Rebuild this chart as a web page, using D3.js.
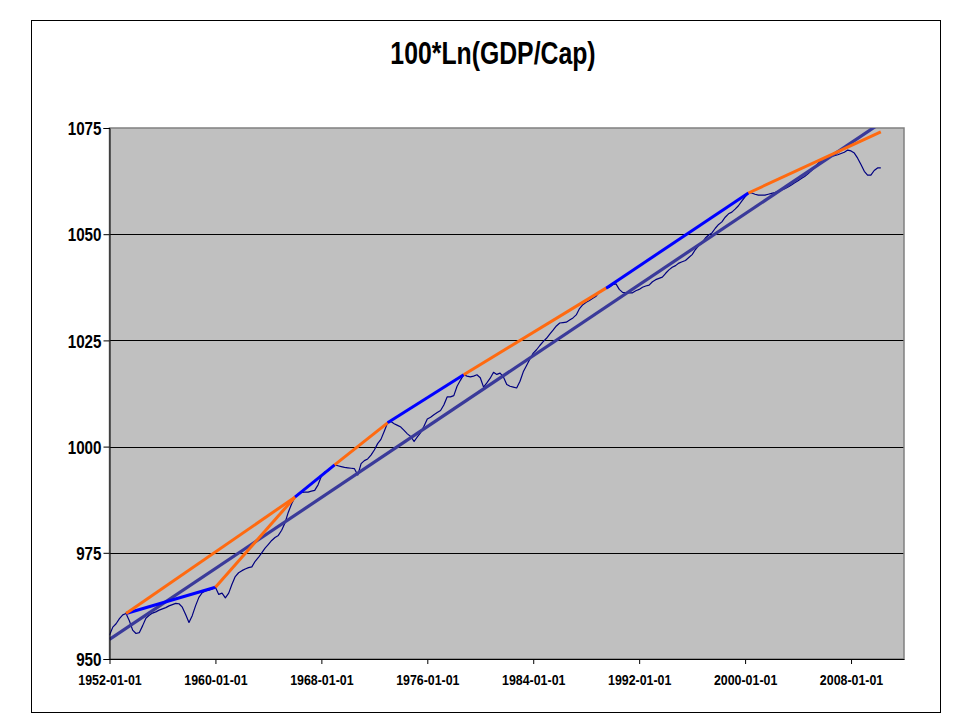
<!DOCTYPE html>
<html><head><meta charset="utf-8">
<script src="https://cdn.jsdelivr.net/npm/d3@7"></script>
<style>body{margin:0;background:#fff}svg{display:block}</style>
</head><body>
<svg id="c" width="960" height="720"></svg>
<script>
const chartTitle = "100*Ln(GDP/Cap)";
const firstQuarter = "1952-01-01";
// quarterly 100*ln(GDP per capita), 1952Q1 .. 2010Q2
const gdp = [
 955.6, 957.5, 958.3, 959.5, 960.4, 960.7, 959.0, 956.8, 956.0, 956.2,
 957.8, 959.6, 960.3, 960.8, 961.1, 961.5, 961.8, 962.1, 962.5, 962.8,
 963.1, 963.0, 962.2, 960.5, 958.6, 960.2, 962.5, 964.5, 965.6, 966.0,
 966.2, 966.5, 966.9, 965.2, 965.5, 964.4, 965.5, 967.6, 969.4, 970.3,
 970.8, 971.2, 971.5, 971.7, 973.0, 973.9, 975.0, 976.1, 977.0, 977.9,
 978.6, 979.1, 980.3, 982.0, 984.5, 986.5, 988.1, 988.8, 989.2, 989.3,
 989.3, 989.5, 989.7, 991.0, 993.0, 994.0, 994.3, 995.0, 995.7, 995.5,
 995.3, 995.1, 995.0, 994.9, 994.8, 993.3, 996.0, 996.7, 997.1, 998.0,
 999.2, 1000.7, 1001.7, 1003.6, 1005.6, 1005.9, 1005.4, 1005.0, 1004.6, 1003.8,
 1003.0, 1002.4, 1001.2, 1002.3, 1003.3, 1004.8, 1006.5, 1006.9, 1007.5, 1008.0,
 1008.5, 1009.8, 1011.7, 1011.7, 1012.0, 1014.2, 1015.6, 1016.9, 1016.6, 1016.4,
 1016.6, 1016.9, 1016.2, 1014.0, 1015.0, 1016.1, 1017.5, 1017.0, 1017.3, 1016.4,
 1014.6, 1014.2, 1014.0, 1013.8, 1015.4, 1017.6, 1019.1, 1020.6, 1022.0, 1022.8,
 1023.8, 1024.7, 1025.5, 1026.5, 1027.4, 1028.4, 1029.1, 1029.2, 1029.3, 1029.8,
 1030.3, 1031.0, 1032.5, 1033.4, 1034.0, 1034.4, 1034.9, 1035.4, 1036.4, 1036.9,
 1037.3, 1037.5, 1038.1, 1038.3, 1037.0, 1036.3, 1036.2, 1036.2, 1036.2, 1036.7,
 1037.0, 1037.5, 1037.8, 1038.0, 1038.8, 1039.3, 1039.6, 1039.9, 1040.8, 1041.6,
 1042.2, 1042.6, 1043.2, 1043.5, 1043.8, 1044.5, 1045.2, 1046.4, 1047.3, 1048.0,
 1049.1, 1049.8, 1050.3, 1051.4, 1052.3, 1052.9, 1054.0, 1054.8, 1055.2, 1055.9,
 1056.7, 1057.8, 1058.8, 1059.7, 1059.7, 1059.4, 1059.2, 1059.2, 1059.2, 1059.4,
 1059.6, 1059.8, 1060.1, 1060.4, 1060.7, 1061.1, 1061.6, 1062.1, 1062.6, 1063.1,
 1063.6, 1064.2, 1064.9, 1065.7, 1066.6, 1067.4, 1067.9, 1068.1, 1068.3, 1068.5,
 1068.7, 1069.0, 1069.3, 1069.8, 1069.6, 1069.1, 1067.9, 1066.4, 1064.8, 1063.9,
 1063.9, 1065.0, 1065.6, 1065.6
];
// long-run trend line endpoints
const trendDates = ["1952-01-01", "2010-04-01"];
const trendValues = [954.6, 1076.2];
// peak-to-peak segments
const blueSegDates = [["1953-04-01","1960-01-01"],["1966-01-01","1969-01-01"],["1973-01-01","1978-10-01"],["1989-07-01","2000-04-01"]];
const blueSegValues = [[960.7,966.9],[988.1,995.7],[1005.6,1016.9],[1037.3,1059.7]];
const orangeSegDates = [["1953-04-01","1966-01-01"],["1960-01-01","1966-01-01"],["1969-01-01","1973-01-01"],["1978-10-01","1989-07-01"],["2000-04-01","2010-04-01"]];
const orangeSegValues = [[960.7,988.1],[966.9,988.1],[995.7,1005.6],[1016.9,1037.3],[1059.7,1074.1]];
const yTicks = [950, 975, 1000, 1025, 1050, 1075];
const xTickLabels = ["1952-01-01","1960-01-01","1968-01-01","1976-01-01","1984-01-01","1992-01-01","2000-01-01","2008-01-01"];
const xDomain = ["1952-01-01", "2012-01-01"];

const parse = d3.timeParse("%Y-%m-%d");
const svg = d3.select("#c");
const L = 109.5, R = 904, T = 128, B = 659;
const FONT = "'Liberation Sans', Arial, sans-serif";
const SX = 0.8;

const x = d3.scaleTime().domain(xDomain.map(parse)).range([L, R]);
const y = d3.scaleLinear().domain([950, 1075]).range([B, T]);

// outer chart border
svg.append("rect").attr("x", 31.5).attr("y", 20.5).attr("width", 909).attr("height", 692)
  .attr("fill", "#fff").attr("stroke", "#000").attr("stroke-width", 1);

// title
svg.append("text").attr("transform", `translate(493,64) scale(${SX},1)`)
  .attr("text-anchor", "middle").attr("font-family", FONT).attr("font-weight", "bold")
  .attr("font-size", 31).attr("fill", "#000").text(chartTitle);

// plot area
svg.append("rect").attr("x", L).attr("y", T).attr("width", R - L).attr("height", B - T)
  .attr("fill", "#c0c0c0");

// gridlines
svg.append("g").selectAll("line").data(yTicks.filter(v => v > 950 && v < 1075)).join("line")
  .attr("x1", L).attr("x2", R).attr("y1", d => Math.round(y(d)) + 0.5).attr("y2", d => Math.round(y(d)) + 0.5)
  .attr("stroke", "#000").attr("stroke-width", 1);

// plot border
svg.append("rect").attr("x", L).attr("y", T).attr("width", R - L).attr("height", B - T)
  .attr("fill", "none").attr("stroke", "#808080").attr("stroke-width", 1.5);

svg.append("defs").append("clipPath").attr("id", "clip")
  .append("rect").attr("x", L).attr("y", T).attr("width", R - L).attr("height", B - T);
const g = svg.append("g").attr("clip-path", "url(#clip)");

const start = parse(firstQuarter);
const gdpPts = gdp.map((v, i) => [d3.timeMonth.offset(start, 3 * i), v]);
const line = d3.line().x(d => x(d[0])).y(d => y(d[1]));

g.append("path").datum(gdpPts).attr("d", line).attr("fill", "none")
  .attr("stroke", "#000080").attr("stroke-width", 1.2).attr("stroke-linejoin", "round");

g.append("path").datum(trendDates.map((d, i) => [parse(d), trendValues[i]])).attr("d", line)
  .attr("fill", "none").attr("stroke", "#3a3a9a").attr("stroke-width", 3.2);

function drawSegs(dates, vals, color) {
  dates.forEach((pair, k) => {
    g.append("path").datum(pair.map((d, j) => [parse(d), vals[k][j]])).attr("d", line)
      .attr("fill", "none").attr("stroke", color).attr("stroke-width", 3).attr("stroke-linecap", "butt");
  });
}
drawSegs(blueSegDates, blueSegValues, "#0000ff");
drawSegs(orangeSegDates, orangeSegValues, "#ff6a10");

// axes
const yAxis = svg.append("g").attr("transform", `translate(${L},0)`)
  .call(d3.axisLeft(y).tickValues(yTicks).tickSize(6).tickFormat(d3.format("d")));
yAxis.select(".domain").attr("stroke", "#000");
yAxis.selectAll(".tick line").attr("stroke", "#000");
yAxis.selectAll("text").attr("font-family", FONT).attr("font-weight", "bold").attr("font-size", 19)
  .attr("fill", "#000").attr("x", -8 / SX).attr("dy", "0.35em").attr("transform", `scale(${SX},1)`);

const xAxis = svg.append("g").attr("transform", `translate(0,${B})`)
  .call(d3.axisBottom(x).tickValues(xTickLabels.map(parse)).tickSize(5).tickSizeOuter(0)
    .tickFormat(d3.timeFormat("%Y-%m-%d")));
xAxis.select(".domain").attr("stroke", "#000");
xAxis.selectAll(".tick line").attr("stroke", "#000");
xAxis.selectAll("text").attr("font-family", FONT).attr("font-weight", "bold").attr("font-size", 15.5)
  .attr("fill", "#000").attr("y", 26).attr("dy", 0).attr("transform", `scale(${SX},1)`);
</script>
</body></html>
